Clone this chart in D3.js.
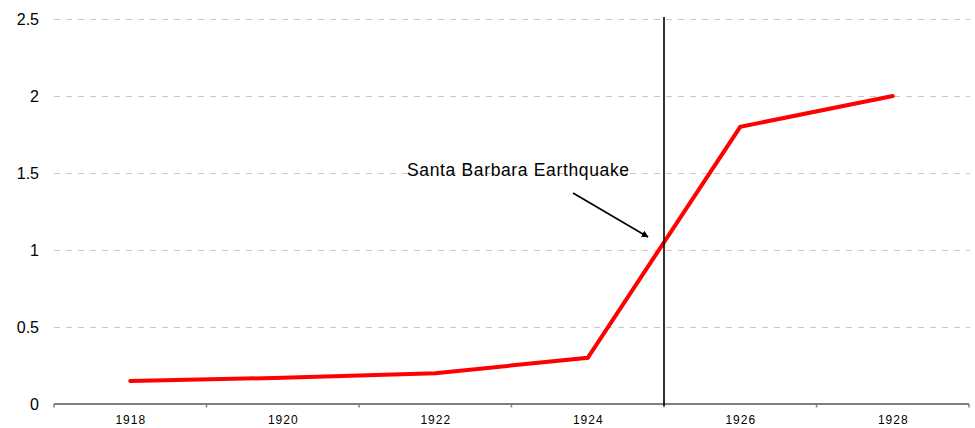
<!DOCTYPE html>
<html>
<head>
<meta charset="utf-8">
<script src="https://cdn.jsdelivr.net/npm/d3@7/dist/d3.min.js"></script>
<style>
  html, body { margin: 0; padding: 0; background: #fff; }
  svg { display: block; }
  text { font-family: "Liberation Sans", Arial, sans-serif; fill: #000; }
</style>
</head>
<body>
<svg id="chart" width="975" height="428"></svg>
<script>
// Series: value by year
const years = ["1918", "1920", "1922", "1924", "1926", "1928"];
const values = [0.15, 0.17, 0.2, 0.3, 1.8, 2.0];

// Y axis ticks
const yTicks = [0, 0.5, 1, 1.5, 2, 2.5];

// Event marker
const eventYear = 1925;
const eventLabel = "Santa Barbara Earthquake";

const svg = d3.select("#chart");
const margin = { top: 19, right: 6, bottom: 24, left: 54 };
const width = 975, height = 428;

const x = d3.scaleBand()
  .domain(years)
  .range([margin.left, width - margin.right])
  .paddingInner(0).paddingOuter(0);

const y = d3.scaleLinear()
  .domain([0, 2.5])
  .range([height - margin.bottom, margin.top]);

const xCenter = d => x(d) + x.bandwidth() / 2;

// Horizontal dashed gridlines
svg.append("g")
  .selectAll("line")
  .data(yTicks.filter(t => t > 0))
  .join("line")
  .attr("x1", margin.left)
  .attr("x2", width - margin.right + 1)
  .attr("y1", d => Math.round(y(d)) + 0.5)
  .attr("y2", d => Math.round(y(d)) + 0.5)
  .attr("stroke", "#c8c8c8")
  .attr("stroke-width", 1)
  .attr("stroke-dasharray", "6,6");

// Y tick labels
svg.append("g")
  .selectAll("text")
  .data(yTicks)
  .join("text")
  .attr("x", 39)
  .attr("y", d => y(d))
  .attr("dy", "0.35em")
  .attr("text-anchor", "end")
  .style("font-size", "16px")
  .text(d => d);

// X axis: band boundaries as tick marks, labels centred on bands
const xAxis = d3.axisBottom(x).tickSize(0).tickPadding(11);
const gx = svg.append("g")
  .attr("transform", `translate(0,${y(0)})`)
  .call(xAxis);
gx.select(".domain").remove();
gx.selectAll("text")
  .style("font-size", "12px")
  .style("letter-spacing", "1px")
  .attr("dx", "0.5px")
  .attr("fill", "#000");

const boundaries = years.map(d => x(d)).concat([x(years[years.length - 1]) + x.bandwidth()]);
svg.append("line")
  .attr("x1", margin.left)
  .attr("x2", width - margin.right)
  .attr("y1", y(0))
  .attr("y2", y(0))
  .attr("stroke", "#7f7f7f")
  .attr("stroke-width", 2);
svg.append("g")
  .selectAll("line")
  .data(boundaries)
  .join("line")
  .attr("x1", d => d)
  .attr("x2", d => d)
  .attr("y1", y(0))
  .attr("y2", y(0) + 3.5)
  .attr("stroke", "#7f7f7f")
  .attr("stroke-width", 1.5);

// Event vertical line, placed between the 1924 and 1926 bands
const yearToX = d3.scaleLinear()
  .domain([+years[0], +years[years.length - 1]])
  .range([xCenter(years[0]), xCenter(years[years.length - 1])]);
const ex = yearToX(eventYear);

// Red series line
svg.append("path")
  .datum(years.map((d, i) => [xCenter(d), y(values[i])]))
  .attr("fill", "none")
  .attr("stroke", "#ff0000")
  .attr("stroke-width", 4)
  .attr("stroke-linejoin", "miter")
  .attr("stroke-linecap", "round")
  .attr("d", d3.line());

svg.append("line")
  .attr("x1", ex)
  .attr("x2", ex)
  .attr("y1", 17)
  .attr("y2", y(0) + 2)
  .attr("stroke", "#000")
  .attr("stroke-width", 1.6);

// Annotation label and arrow
svg.append("defs").append("marker")
  .attr("id", "arrowhead")
  .attr("viewBox", "0 0 10 10")
  .attr("refX", 9)
  .attr("refY", 5)
  .attr("markerWidth", 7)
  .attr("markerHeight", 7)
  .attr("markerUnits", "userSpaceOnUse")
  .attr("orient", "auto")
  .append("path")
  .attr("d", "M0,0 L10,5 L0,10 Z")
  .attr("fill", "#000");

svg.append("text")
  .attr("x", 407)
  .attr("y", 176)
  .attr("textLength", 222)
  .attr("lengthAdjust", "spacing")
  .style("font-size", "17.5px")
  .text(eventLabel);

svg.append("line")
  .attr("x1", ex - 91)
  .attr("y1", 193)
  .attr("x2", ex - 16)
  .attr("y2", 237)
  .attr("stroke", "#000")
  .attr("stroke-width", 1.6)
  .attr("marker-end", "url(#arrowhead)");
</script>
</body>
</html>
